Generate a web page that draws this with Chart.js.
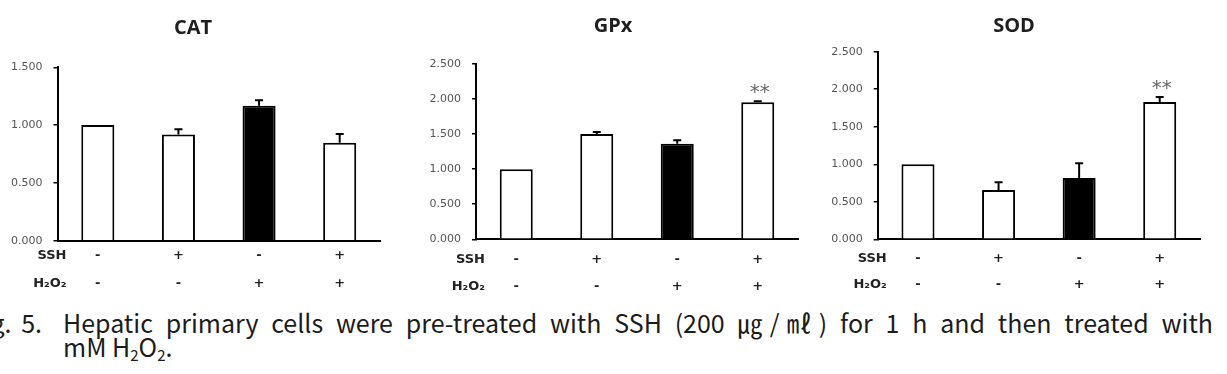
<!DOCTYPE html>
<html>
<head>
<meta charset="utf-8">
<script src="https://cdn.jsdelivr.net/npm/chart.js@4.4.1/dist/chart.umd.min.js"></script>
<style>
  html, body { margin: 0; padding: 0; background: #fff; }
  body { width: 1227px; height: 374px; position: relative; overflow: hidden; }
  canvas { position: absolute; top: 0; }
  .cap {
    position: absolute;
    font-family: "Noto Sans CJK KR", "Noto Sans", sans-serif;
    font-size: 25px;
    line-height: 30px;
    color: #1c1c1c;
    white-space: nowrap;
  }
  .cap sub { font-size: 15px; vertical-align: -4px; line-height: 0; }
  #cap-line1 { left: 63px; top: 307px; width: 1150px; white-space: normal;
               text-align: justify; text-align-last: justify; }
  #cap-fig { left: -40px; top: 307px; width: 82px; text-align: right; word-spacing: 4px; }
  #cap-line2 { left: 63px; top: 331px; }
</style>
</head>
<body>
<canvas id="cat" width="380" height="300" style="left:6px"></canvas>
<canvas id="gpx" width="376" height="300" style="left:428px"></canvas>
<canvas id="sod" width="378" height="300" style="left:828px"></canvas>

<div class="cap" id="cap-fig">Fig. 5.</div>
<div class="cap" id="cap-line1">Hepatic primary cells were pre-treated with SSH (200 ㎍/㎖) for 1 h and then treated with</div>
<div class="cap" id="cap-line2">mM H<sub>2</sub>O<sub>2</sub>.</div>

<script>
// ---- data ----
const sshRow = ["-", "+", "-", "+"];
const h2o2Row = ["-", "-", "+", "+"];
const rowNames = ["SSH", "H\u2082O\u2082"];
const barFill = ["#ffffff", "#ffffff", "#000000", "#ffffff"];

const catValues = [1.000, 0.919, 1.168, 0.847];
const catErrors = [0, 0.046, 0.046, 0.075];
const catMarks = ["", "", "", ""];
const catTicks = [0, 0.5, 1.0, 1.5];

const gpxValues = [1.000, 1.501, 1.364, 1.955];
const gpxErrors = [0, 0.028, 0.047, 0.015];
const gpxMarks = ["", "", "", "**"];
const gpxTicks = [0, 0.5, 1.0, 1.5, 2.0, 2.5];

const sodValues = [1.000, 0.657, 0.817, 1.829];
const sodErrors = [0, 0.102, 0.195, 0.067];
const sodMarks = ["", "", "", "**"];
const sodTicks = [0, 0.5, 1.0, 1.5, 2.0, 2.5];

// ---- plugins ----
const errorBars = {
  id: "errorBars",
  afterDatasetsDraw(chart) {
    const ds = chart.data.datasets[0];
    const meta = chart.getDatasetMeta(0);
    const y = chart.scales.y;
    const ctx = chart.ctx;
    ctx.save();
    ctx.strokeStyle = "#000";
    ctx.lineWidth = 2;
    meta.data.forEach((bar, i) => {
      const err = ds.errors[i];
      const top = y.getPixelForValue(ds.data[i] + err);
      if (err > 0) {
        ctx.beginPath();
        ctx.moveTo(bar.x, bar.y);
        ctx.lineTo(bar.x, top);
        ctx.moveTo(bar.x - 4, top);
        ctx.lineTo(bar.x + 4, top);
        ctx.stroke();
      }
      const mark = ds.marks[i];
      if (mark) {
        ctx.fillStyle = "#666";
        ctx.font = "20px 'DejaVu Sans'";
        ctx.textAlign = "center";
        ctx.textBaseline = "alphabetic";
        ctx.fillText(mark, bar.x + 2, top - 3);
      }
    });
    ctx.restore();
  },
};

const rowHeaders = {
  id: "rowHeaders",
  afterDraw(chart, args, opts) {
    const xs = chart.scales.x;
    const ctx = chart.ctx;
    ctx.save();
    ctx.fillStyle = "#222";
    ctx.font = "bold 13px 'DejaVu Sans'";
    ctx.textAlign = "right";
    ctx.textBaseline = "middle";
    rowNames.forEach((name, i) => {
      const yy = xs.top + opts.pad + opts.step / 2 + i * opts.step;
      ctx.fillText(name, chart.chartArea.left + 9, yy);
    });
    ctx.restore();
  },
};

// ---- panels ----
function makePanel(id, o) {
  return new Chart(document.getElementById(id), {
    type: "bar",
    data: {
      labels: sshRow.map((s, i) => [s, h2o2Row[i]]),
      datasets: [
        {
          data: o.values,
          errors: o.errors,
          marks: o.marks,
          backgroundColor: barFill,
          borderColor: "#000",
          borderWidth: 2,
          borderSkipped: "start",
          barPercentage: 0.41,
          categoryPercentage: 1.0,
        },
      ],
    },
    options: {
      responsive: false,
      animation: false,
      layout: { padding: { left: 0, right: 6, top: 0, bottom: 0 } },
      plugins: {
        legend: { display: false },
        tooltip: { enabled: false },
        title: {
          display: true,
          text: o.title,
          color: "#1e1e1e",
          font: { family: "'Open Sans', sans-serif", size: 20, weight: "bold", lineHeight: 1.2 },
          padding: { top: o.titleTop, bottom: o.titleBottom },
        },
        rowHeaders: { pad: o.rowPad, step: o.rowStep },
      },
      scales: {
        x: {
          grid: { display: false, drawTicks: false },
          border: { display: true, color: "#000", width: 2 },
          ticks: {
            color: "#222",
            font: { family: "'DejaVu Sans'", size: 13, weight: "bold", lineHeight: o.rowStep + "px" },
            padding: o.rowPad,
            maxRotation: 0,
            autoSkip: false,
          },
          afterFit: (s) => { s.height = o.xHeight; },
        },
        y: {
          min: 0,
          max: o.ticks[o.ticks.length - 1],
          grid: { display: true, drawOnChartArea: false, drawTicks: true, tickLength: 4, color: "#000", lineWidth: 1.5 },
          border: { display: true, color: "#000", width: 2 },
          ticks: {
            color: "#555",
            font: { family: "'DejaVu Sans'", size: 11 },
            padding: 11,
            callback: (v) => Number(v).toFixed(3),
          },
          afterBuildTicks: (s) => { s.ticks = o.ticks.map((v) => ({ value: v })); },
          afterFit: (s) => { s.width = o.yWidth; },
        },
      },
    },
    plugins: [errorBars, rowHeaders],
  });
}

makePanel("cat", {
  title: "CAT", values: catValues, errors: catErrors, marks: catMarks, ticks: catTicks,
  titleTop: 16, titleBottom: 27.3, yWidth: 51.5, xHeight: 59.3, rowPad: 0.85, rowStep: 28.3,
});
makePanel("gpx", {
  title: "GPx", values: gpxValues, errors: gpxErrors, marks: gpxMarks, ticks: gpxTicks,
  titleTop: 14, titleBottom: 26, yWidth: 48, xHeight: 60.7, rowPad: 7.35, rowStep: 26.7,
});
makePanel("sod", {
  title: "SOD", values: sodValues, errors: sodErrors, marks: sodMarks, ticks: sodTicks,
  titleTop: 14.7, titleBottom: 13, yWidth: 49.7, xHeight: 60.7, rowPad: 5.65, rowStep: 26.7,
});
</script>
</body>
</html>
